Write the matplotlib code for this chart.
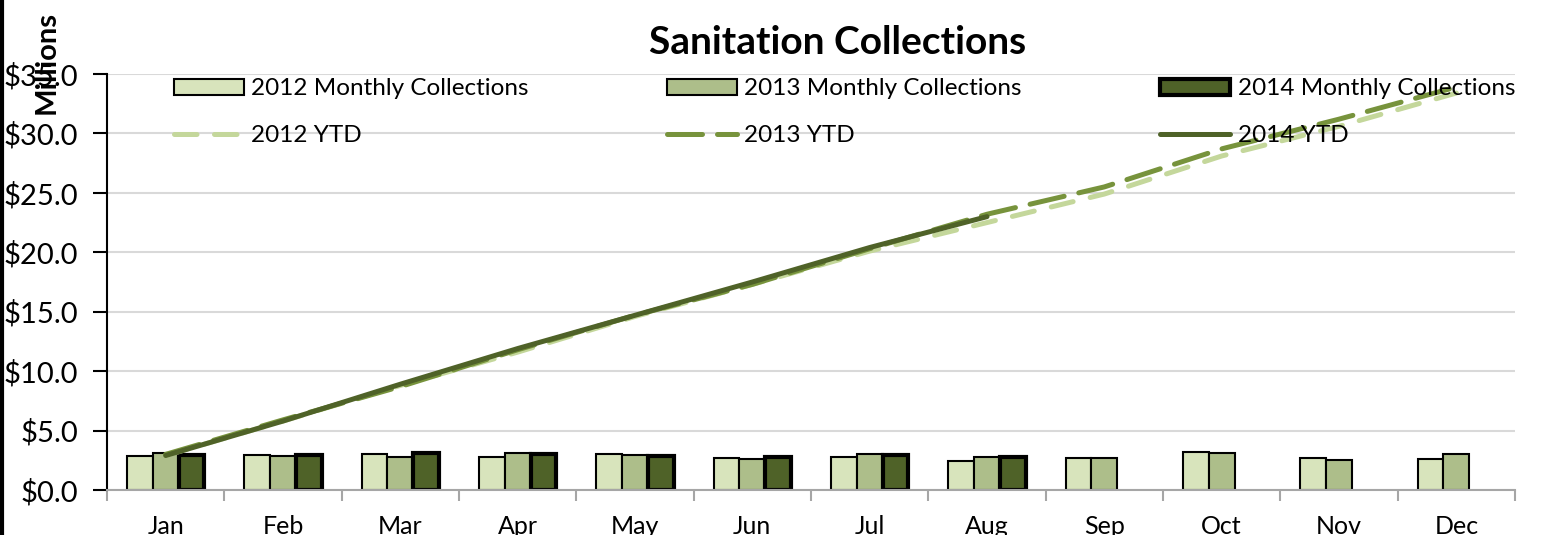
import numpy as np
import matplotlib.pyplot as plt
from matplotlib.ticker import FuncFormatter

plt.rcParams['font.family'] = ['Lato', 'DejaVu Sans']

months = ['Jan', 'Feb', 'Mar', 'Apr', 'May', 'Jun',
          'Jul', 'Aug', 'Sep', 'Oct', 'Nov', 'Dec']

# monthly collections, $ millions
monthly_2012 = [2.88, 2.96, 3.05, 2.80, 3.05, 2.68, 2.80, 2.46, 2.68, 3.21, 2.68, 2.60]
monthly_2013 = [3.10, 2.88, 2.77, 3.13, 2.94, 2.63, 2.99, 2.74, 2.68, 3.08, 2.54, 3.02]
monthly_2014 = [2.95, 2.93, 3.08, 3.05, 2.83, 2.80, 2.97, 2.74]

# year-to-date totals, $ millions
ytd_2012 = [2.9, 5.8, 8.8, 11.6, 14.6, 17.3, 20.1, 22.5, 24.9, 28.1, 30.6, 33.4]
ytd_2013 = [3.0, 5.9, 8.7, 11.8, 14.7, 17.3, 20.3, 23.2, 25.5, 28.7, 31.2, 33.9]
ytd_2014 = [2.9, 5.8, 8.9, 11.9, 14.7, 17.5, 20.4, 23.0]

c12, c13, c14 = '#d8e4bc', '#adbe8a', '#4f6228'
l12, l13, l14 = '#c4d79b', '#77933c', '#4f6228'

fig = plt.figure(figsize=(15.53, 5.35), dpi=100)
ax = fig.add_axes([107 / 1553, 1 - 490 / 535, 1408 / 1553, 416 / 535])

x = np.arange(len(months))
w = 0.22
ax.bar(x - w, monthly_2012, w, color=c12, edgecolor='black', linewidth=1.5,
       label='2012 Monthly Collections', zorder=2)
ax.bar(x, monthly_2013, w, color=c13, edgecolor='black', linewidth=1.5,
       label='2013 Monthly Collections', zorder=2)
ax.bar(x[:len(monthly_2014)] + w, monthly_2014, w, color=c14, edgecolor='black',
       linewidth=3, label='2014 Monthly Collections', zorder=2)

ax.plot(x, ytd_2012, color=l12, lw=3.6, ls=(0, (4.5, 3.5)),
        dash_capstyle='round', label='2012 YTD', zorder=3)
ax.plot(x, ytd_2013, color=l13, lw=3.6, ls=(0, (7, 3)),
        dash_capstyle='round', label='2013 YTD', zorder=4)
ax.plot(x[:len(ytd_2014)], ytd_2014, color=l14, lw=3.6,
        solid_capstyle='round', label='2014 YTD', zorder=5)

ax.set_xlim(-0.5, 11.5)
ax.set_ylim(0, 35)
ax.set_yticks(np.arange(0, 36, 5))
ax.yaxis.set_major_formatter(FuncFormatter(lambda v, p: f'${v:.1f}'))
ax.tick_params(axis='y', length=10, width=1.5, color='black', pad=11, labelsize=21)

ax.set_xticks(np.arange(-0.5, 12, 1))
ax.set_xticklabels([])
ax.set_xticks(x, minor=True)
ax.set_xticklabels(months, minor=True)
ax.tick_params(axis='x', which='major', length=8, width=1.5, color='#a6a6a6')
ax.tick_params(axis='x', which='minor', length=0, pad=18, labelsize=18)

ax.yaxis.grid(True, color='#d9d9d9', lw=1.5)
ax.set_axisbelow(True)
for s in ['top', 'right']:
    ax.spines[s].set_visible(False)
ax.spines['left'].set_linewidth(1.5)
ax.spines['bottom'].set_color('#a6a6a6')
ax.spines['bottom'].set_linewidth(1.5)

# legend: bars on the first row, YTD lines on the second
h, lab = ax.get_legend_handles_labels()
h_lines, h_bars = h[:3], h[3:]
handles = [h_bars[0], h_lines[0], h_bars[1], h_lines[1], h_bars[2], h_lines[2]]
labels = [hh.get_label() for hh in handles]
leg = ax.legend(handles, labels, ncol=3, mode='expand', loc='center',
                bbox_to_anchor=(67 / 1408, 0.824, 1341 / 1408, 0.168),
                frameon=False, fontsize=17.5, borderpad=0, borderaxespad=0,
                handlelength=2.88, handleheight=0.66, handletextpad=0.29,
                labelspacing=1.06)
leg.set_zorder(10)

fig.text(838 / 1553, 1 - 42 / 535, 'Sanitation Collections', ha='center',
         va='center', fontsize=28, fontweight='bold')
fig.text(47 / 1553, 1 - 63 / 535, 'Millions', ha='center', va='center',
         rotation=90, fontsize=21, fontweight='bold')

# dark border on the left edge
fig.add_artist(plt.Line2D([0.001, 0.001], [0, 1], color='black', lw=3,
                          transform=fig.transFigure))

fig.savefig('out.png', dpi=100)
